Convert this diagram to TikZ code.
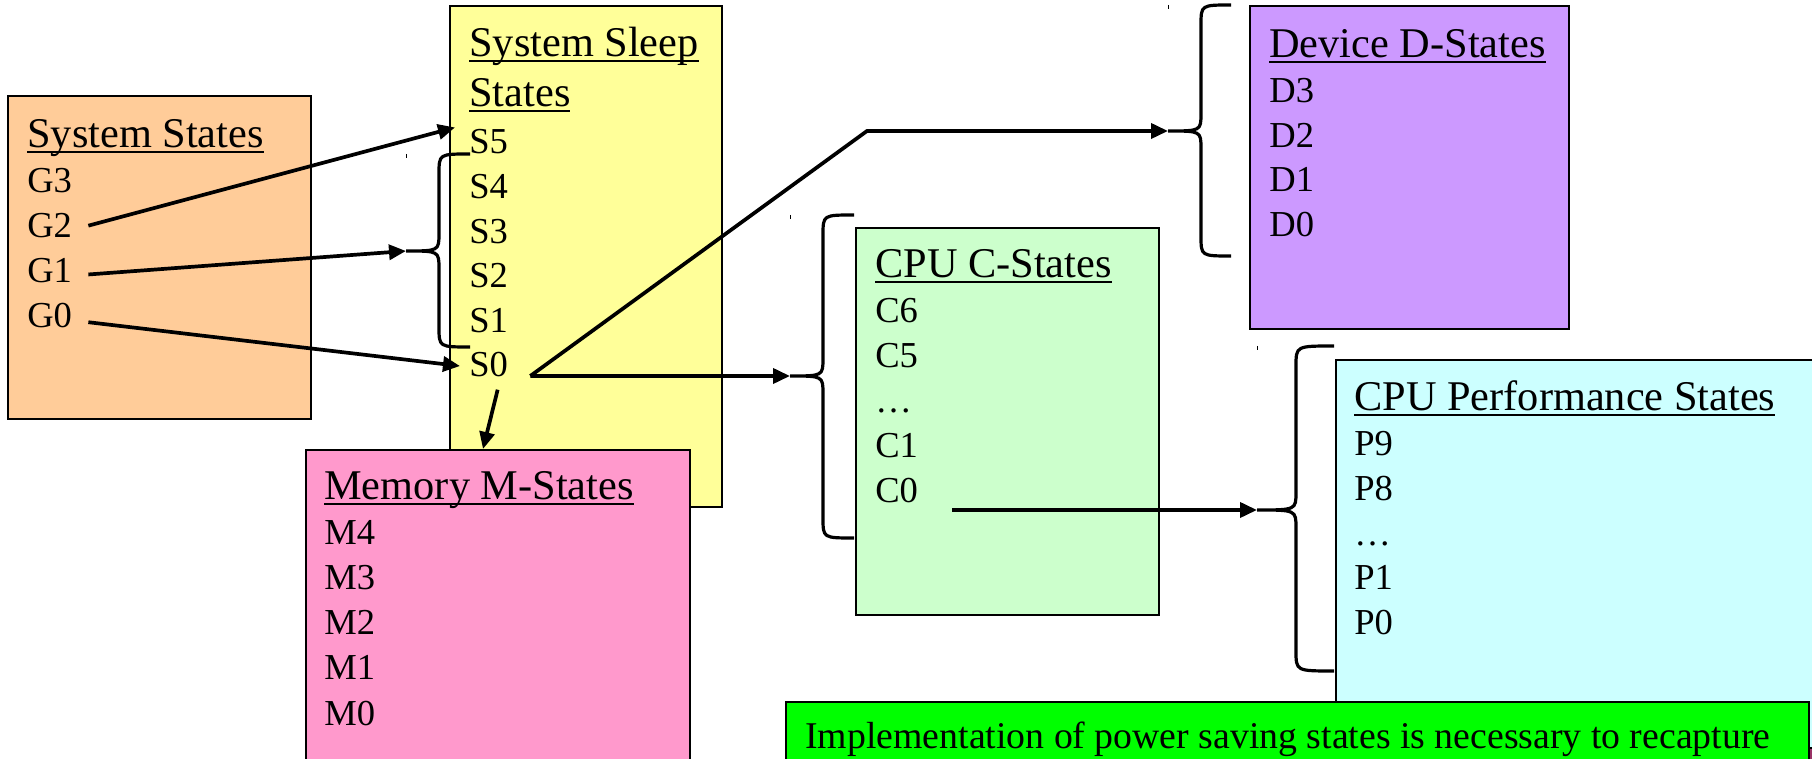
\documentclass[tikz,border=0pt]{standalone}
\usepackage{fontspec}
\setmainfont{Liberation Serif}
\usetikzlibrary{arrows.meta,calc}

\definecolor{sysorange}{HTML}{FFCC99}
\definecolor{sleepyellow}{HTML}{FFFF99}
\definecolor{mempink}{HTML}{FF99CC}
\definecolor{cpugreen}{HTML}{CCFFCC}
\definecolor{devpurple}{HTML}{CC99FF}
\definecolor{perfcyan}{HTML}{CCFFFF}
\definecolor{notegreen}{HTML}{00FF00}
\definecolor{plum}{HTML}{993366}

\newsavebox\headbox
\newcommand{\headline}[1]{\sbox\headbox{#1}\rlap{\rule[-2.8pt]{\wd\headbox}{1.1pt}}\usebox\headbox}

% end x, spine x, tip x, top y, tip y, bottom y, tip name
\newcommand{\curlybrace}[7]{%
  \draw[brace] (#1,#4) .. controls (#2,#4) .. (#2,#4+20) -- (#2,#5-18)
    .. controls (#2,#5) .. (#3,#5) .. controls (#2,#5) .. (#2,#5+18)
    -- (#2,#6-20) .. controls (#2,#6) .. (#1,#6);
  \draw[line width=0.02cm] (#3,#4) -- (#3,#4+4);
  \coordinate (#7) at (#3,#5);
}

\tikzset{
  statebox/.style={draw, line width=0.04cm, anchor=north west, inner sep=0pt},
  headtext/.style={anchor=base west, inner sep=0pt, font=\fontsize{24.1pt}{29pt}\selectfont},
  item/.style={anchor=base west, inner sep=0pt, font=\fontsize{20.8pt}{25pt}\selectfont},
  conn/.style={line width=0.074cm, -{Triangle[length=0.34cm,width=0.3cm]}},
  brace/.style={line width=0.064cm},
}

\begin{document}
\begin{tikzpicture}[x=0.02cm, y=-0.02cm]
\clip (0,0) rectangle (1812,759);

% boxes
\node[statebox, fill=sysorange, minimum width=6.06cm, minimum height=6.46cm] (sysbox) at (7,95) {};
\node[statebox, fill=sleepyellow, minimum width=5.44cm, minimum height=10.02cm] (sleepbox) at (449,5) {};
\node[statebox, fill=mempink, minimum width=7.68cm, minimum height=7.02cm] (membox) at (305,449) {};
\node[statebox, fill=cpugreen, minimum width=6.06cm, minimum height=7.74cm] (cbox) at (855,227) {};
\node[statebox, fill=devpurple, minimum width=6.38cm, minimum height=6.46cm] (dbox) at (1249,5) {};
\node[statebox, fill=perfcyan, minimum width=10.1cm, minimum height=8.82cm] (pbox) at (1335,359) {};
\node[statebox, fill=plum, minimum width=2.8cm, minimum height=1.2cm] (plumbox) at (1700,747) {};
\node[statebox, fill=notegreen, minimum width=20.46cm, minimum height=1.98cm] (notebox) at (785,701) {};

% texts
\node[headtext] (systitle) at (27,148) {\headline{System States}};
\foreach \name [count=\i] in {G3,G2,G1,G0}
  \node[item] (\name) at (27,148+44.8*\i) {\name};

\node[headtext] (sleeptitle) at (469,57) {\headline{System Sleep}};
\node[headtext] (sleeptitleb) at (469,107) {\headline{States}};
\foreach \name [count=\i] in {S5,S4,S3,S2,S1,S0}
  \node[item] (\name) at (469,109.4+44.6*\i) {\name};

\node[headtext] (memtitle) at (324,500) {\headline{Memory M-States}};
\foreach \name [count=\i] in {M4,M3,M2,M1,M0}
  \node[item] (\name) at (324,500+45*\i) {\name};

\node[headtext] (ctitle) at (875,278) {\headline{CPU C-States}};
\foreach \name/\label [count=\i] in {C6/C6,C5/C5,Cx/…,C1/C1,C0/C0}
  \node[item] (\name) at (875,278+45*\i) {\label};

\node[headtext] (dtitle) at (1269,58) {\headline{Device D-States}};
\foreach \name [count=\i] in {D3,D2,D1,D0}
  \node[item] (\name) at (1269,58+44.6*\i) {\name};

\node[headtext] (ptitle) at (1354,411) {\headline{CPU Performance States}};
\foreach \name/\label [count=\i] in {P9/P9,P8/P8,Px/…,P1/P1,P0/P0}
  \node[item] (\name) at (1354,411+44.7*\i) {\label};

\node[anchor=base west, inner sep=0pt, font=\fontsize{21.5pt}{26pt}\selectfont] (note) at (805,748)
  {Implementation of power saving states is necessary to recapture};

% braces
\curlybrace{470}{439}{406}{154}{251}{347}{sbrace}
\curlybrace{854}{823}{790}{215}{376}{538}{cbrace}
\curlybrace{1231}{1201}{1168}{5}{131}{256}{dbrace}
\curlybrace{1334}{1296}{1257}{346}{510}{671}{pbrace}

% connectors
\coordinate (sfork) at ($(S0.base east)+(22,-1)$);
\draw[conn] ($(G2.east)+(16,0)$) -- ($(S5.north west)+(-14,-2)$);
\draw[conn] ($(G1.east)+(16,4)$) -- (sbrace);
\draw[conn] ($(G0.east)+(16,7)$) -- ($(S0.west)+(-9,1)$);
\draw[conn] ($(S0.south)+(9,12)$) -- ($(membox.north west)+(178,0)$);
\draw[conn] (sfork) -- (cbrace);
\draw[conn] (sfork) -- ($(dbrace)+(-301,0)$) -- (dbrace);
\draw[conn] ($(C0.base east)+(34,7)$) -- (pbrace);
\end{tikzpicture}
\end{document}
